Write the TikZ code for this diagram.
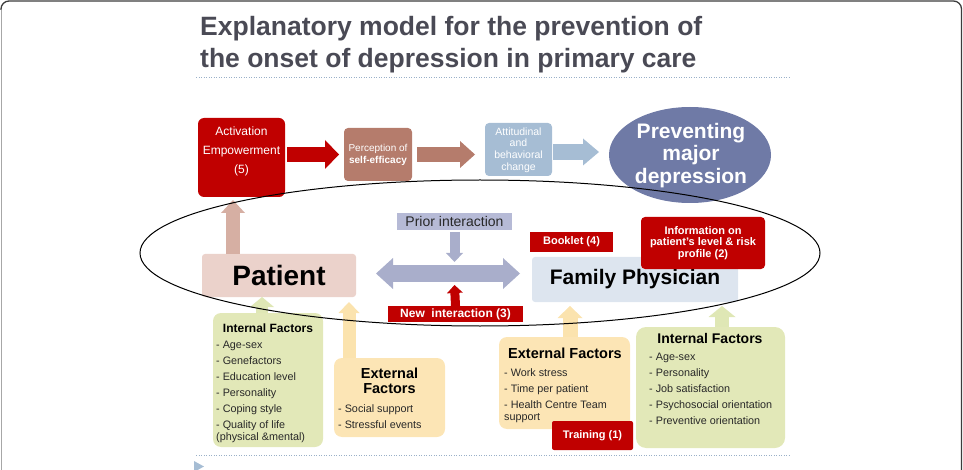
\documentclass[tikz,border=0pt]{standalone}
\usepackage{fontspec}
\setmainfont{Liberation Sans}
\usetikzlibrary{arrows.meta,shapes.geometric,calc}

\definecolor{dred}{RGB}{192,0,0}
\definecolor{brn}{RGB}{181,124,108}
\definecolor{lblue}{RGB}{166,189,212}
\definecolor{slate}{RGB}{111,122,166}
\definecolor{pinkbox}{RGB}{235,210,203}
\definecolor{pinkarr}{RGB}{214,175,163}
\definecolor{lav}{RGB}{182,186,214}
\definecolor{lavarr}{RGB}{169,174,203}
\definecolor{fambox}{RGB}{221,229,239}
\definecolor{grn}{RGB}{226,232,184}
\definecolor{grnarr}{RGB}{223,231,181}
\definecolor{yel}{RGB}{252,229,181}
\definecolor{yelarr}{RGB}{251,227,174}
\definecolor{titlec}{RGB}{74,74,85}
\definecolor{dotc}{RGB}{154,176,200}
\definecolor{framec}{RGB}{60,60,60}
\definecolor{itemc}{RGB}{40,40,40}

\newcommand{\fsz}[2]{\fontsize{#1}{#2}\selectfont}

\begin{document}
\begin{tikzpicture}[x=1pt,y=-1pt,
  shp/.style={inner sep=0pt, outer sep=0pt},
  blk/.style n args={4}{draw=#1, line width=#2, -{Triangle[length=#3, width=#4, line width=0pt]}},
  dblk/.style n args={4}{draw=#1, line width=#2, {Triangle[length=#3, width=#4, line width=0pt]}-{Triangle[length=#3, width=#4, line width=0pt]}},
  items/.style={anchor=north west, align=left, inner sep=0pt, font=\fsz{10.8}{16}, text=itemc},
  ftitle/.style={inner sep=0pt, align=center, text=black, font=\bfseries\fsz{14.5}{15}},
  redlab/.style={shp, fill=dred, text=white, font=\bfseries\fsz{11}{11.5}, align=center},
  dotline/.style={dotc, line width=0.8pt, dash pattern=on 1pt off 1.5pt}
]
\useasboundingbox (0,0) rectangle (963,470);

% frame
\draw[framec!45, line width=1pt] (1,470) -- (1,10);
\draw[framec, line width=1.3pt, rounded corners=8pt] (1,10) -- (1,1) -- (961.5,1) -- (961.5,475);

% title
\node[anchor=base west, inner sep=0pt, font=\bfseries\fsz{26.5}{32}, text=titlec] (t1) at (200,36) {Explanatory model for the prevention of};
\node[anchor=base west, inner sep=0pt, font=\bfseries\fsz{26.5}{32}, text=titlec] (t2) at (200,68) {the onset of depression in primary care};
\draw[dotline] (196,77) -- (790,77);

% top row
\node[shp, fill=dred, rounded corners=6pt, minimum width=87pt, minimum height=79pt] (act) at (241.5,157.5) {};
\node[shp, text=white, align=center, font=\fsz{12}{19}] (actt) at (241.5,151.5) {Activation\\Empowerment\\(5)};
\node[shp, fill=brn, rounded corners=4pt, minimum width=68pt, minimum height=53pt] (perc) at (378,154.5) {};
\node[shp, text=white, align=center, font=\fsz{10}{12}] (perct) at (378,155) {Perception of\\\textbf{self-efficacy}};
\node[shp, fill=lblue, rounded corners=4pt, minimum width=67pt, minimum height=53pt] (att) at (518.5,149.5) {};
\node[shp, text=white, align=center, font=\fsz{10.5}{11.7}] (attt) at (518.5,150) {Attitudinal\\and\\behavioral\\change};
\node[shp, ellipse, fill=slate, minimum width=162pt, minimum height=96pt] (prev) at (690,155) {};
\node[shp, text=white, align=center, font=\bfseries\fsz{21}{22.5}] (prevt) at (691,155.5) {Preventing\\major\\depression};

\draw[blk={dred}{15pt}{14pt}{29pt}, shorten <=2pt, shorten >=5pt] (act.east |- perc.west) -- (perc.west);
\draw[blk={brn}{15pt}{15pt}{27pt}, shorten <=5pt, shorten >=10pt] (perc.east) -- (perc.east -| att.west);
\draw[blk={lblue}{16pt}{16pt}{27pt}, shorten <=1pt, shorten >=10pt] ([yshift=-2.5pt]att.east) -- ([yshift=-2.5pt]att.east -| prev.west);

% middle row
\node[shp, fill=pinkbox, rounded corners=3pt, minimum width=154pt, minimum height=43pt, font=\bfseries\fsz{28}{30}] (pat) at (279,275.5) {Patient};
\node[shp, fill=lav, minimum width=115pt, minimum height=17pt, font=\fsz{14}{15}, text=itemc] (prior) at (454.5,221.5) {Prior interaction};
\node[shp, fill=fambox, rounded corners=3pt, minimum width=206pt, minimum height=45pt, font=\bfseries\fsz{21}{22}] (fam) at (635,279.5) {Family Physician};
\node[redlab, minimum width=135pt, minimum height=16pt, font=\bfseries\fsz{12}{12}] (newi) at (455.5,314) {New\ \ interaction (3)};
\node[redlab, minimum width=83pt, minimum height=20pt] (book) at (571.5,242) {Booklet (4)};
\node[redlab, rounded corners=4pt, minimum width=124pt, minimum height=52pt] (info) at (703,243) {Information on\\patient’s level \& risk\\profile (2)};

\coordinate (dl) at (376,273.5);
\coordinate (dr) at (520,273.5);
\coordinate (mid) at (454.5,273.5);

\draw[blk={pinkarr}{14pt}{13pt}{24pt}, shorten >=3pt] ([xshift=-46pt]pat.north) -- ([xshift=-8.5pt]act.south);
\draw[blk={lavarr}{10pt}{9pt}{17pt}, shorten <=2pt] (prior.south) -- ([yshift=11.5pt]mid);
\draw[dblk={lavarr}{17pt}{17pt}{31pt}] (dl) -- (dr);
\draw[blk={dred}{9pt}{8pt}{16pt}] (newi.north) -- ([yshift=-11.5pt]mid);

% factor boxes
\node[shp, fill=grn, rounded corners=8pt, minimum width=110pt, minimum height=134pt] (intp) at (268,380) {};
\node[ftitle, font=\bfseries\fsz{12}{13}] (intpt) at (268,328) {Internal Factors};
\node[items] (intpi) at (216,341) {- Age-sex\\- Genefactors\\- Education level\\- Personality\\- Coping style\\- Quality of life\\[-4.5pt](physical \&mental)};

\node[shp, fill=yel, rounded corners=8pt, minimum width=111pt, minimum height=79pt] (extp) at (389.5,397.5) {};
\node[ftitle] (extpt) at (389.5,380.5) {External\\Factors};
\node[items] (extpi) at (338,404) {- Social support\\- Stressful events};

\node[shp, fill=yel, rounded corners=8pt, minimum width=131pt, minimum height=92pt] (extf) at (564.5,383) {};
\node[ftitle] (extft) at (565,353) {External Factors};
\node[items] (extfi) at (504,368) {- Work stress\\- Time per patient\\- Health Centre Team\\[-4pt]support};

\node[redlab, rounded corners=2pt, minimum width=81pt, minimum height=29pt] (train) at (592.5,435.5) {Training (1)};

\node[shp, fill=grn, rounded corners=10pt, minimum width=149pt, minimum height=121pt] (intf) at (710.5,387.5) {};
\node[ftitle, font=\bfseries\fsz{14}{15}] (intft) at (710,338) {Internal Factors};
\node[items] (intfi) at (649,353) {- Age-sex\\- Personality\\- Job satisfaction\\- Psychosocial orientation\\- Preventive orientation};

\draw[blk={grnarr}{12pt}{10pt}{24pt}] ([xshift=-6pt]intp.north) -- ([xshift=-17pt]pat.south);
\draw[blk={yelarr}{13pt}{11pt}{21pt}, shorten >=5pt] ([xshift=-40.5pt]extp.north) -- ([xshift=70pt]pat.south);
\draw[blk={yelarr}{15pt}{12pt}{25pt}, shorten >=4pt] ([xshift=5.5pt]extf.north) -- ([xshift=-65pt]fam.south);
\draw[blk={grnarr}{14pt}{11pt}{27pt}, shorten >=4pt] ([xshift=11.5pt]intf.north) -- ([xshift=87pt]fam.south);

% big ring
\node[shp, ellipse, draw=black, line width=1pt, minimum width=680pt, minimum height=146pt] (ring) at (480,253) {};

% bottom
\draw[dotline] (196,455) -- (790,455);
\fill[lblue] (194,461) -- (204,466.5) -- (194,472) -- cycle;
\end{tikzpicture}
\end{document}
